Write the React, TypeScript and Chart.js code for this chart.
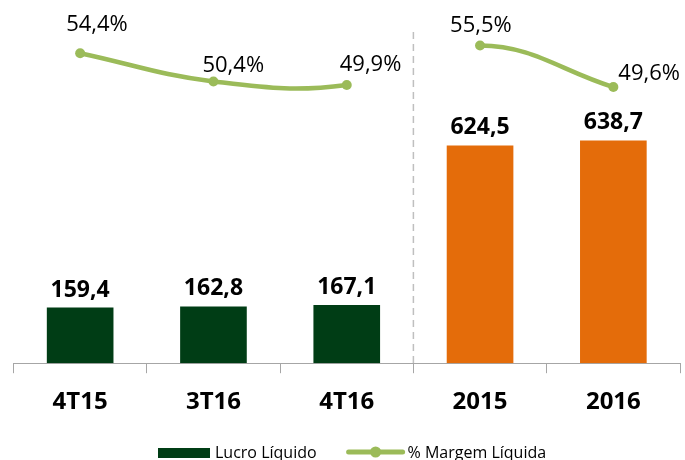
import React, { useEffect, useRef } from "react";
import { Chart, registerables } from "chart.js";

Chart.register(...registerables);

const categories = ["4T15", "3T16", "4T16", "2015", "2016"];
const lucroLiquido = [159.4, 162.8, 167.1, 624.5, 638.7];
const margemLiquida = [54.4, 50.4, 49.9, 55.5, 49.6];

const DARK_GREEN = "#003d15";
const ORANGE = "#e46c0a";
const LIGHT_GREEN = "#9bbb59";
const AXIS_GRAY = "#a6a6a6";
const FONT = "'Open Sans', 'DejaVu Sans', sans-serif";

const barColors = [DARK_GREEN, DARK_GREEN, DARK_GREEN, ORANGE, ORANGE];
// label offsets (left edge dx, baseline dy) relative to each line point
const pctLabelOffsets = [
  [-14, -22],
  [-11, -9],
  [-7, -14],
  [-30, -14],
  [5, -7],
];

const fmt = (v: number) => v.toFixed(1).replace(".", ",");

const labelsPlugin = {
  id: "labelsPlugin",
  afterDatasetsDraw(chart: any) {
    const ctx = chart.ctx;
    ctx.save();
    const barMeta = chart.getDatasetMeta(1);
    ctx.font = `bold 23px ${FONT}`;
    ctx.fillStyle = "#000";
    ctx.textAlign = "center";
    ctx.textBaseline = "alphabetic";
    barMeta.data.forEach((el: any, i: number) => {
      ctx.fillText(fmt(lucroLiquido[i]), el.x, el.y - 11);
    });
    const lineMeta = chart.getDatasetMeta(0);
    ctx.font = `22px ${FONT}`;
    ctx.textAlign = "left";
    lineMeta.data.forEach((el: any, i: number) => {
      const [dx, dy] = pctLabelOffsets[i];
      ctx.fillText(fmt(margemLiquida[i]) + "%", el.x + dx, el.y + dy);
    });
    ctx.restore();
  },
};

const separatorPlugin = {
  id: "separatorPlugin",
  beforeDatasetsDraw(chart: any) {
    const ctx = chart.ctx;
    const xs = chart.scales.x;
    const x = (xs.getPixelForValue(2) + xs.getPixelForValue(3)) / 2;
    ctx.save();
    ctx.strokeStyle = "#bfbfbf";
    ctx.lineWidth = 1.5;
    ctx.setLineDash([7, 5]);
    ctx.beginPath();
    ctx.moveTo(x, 32);
    ctx.lineTo(x, chart.chartArea.bottom);
    ctx.stroke();
    ctx.restore();
  },
};

const legendPlugin = {
  id: "customLegend",
  afterDraw(chart: any) {
    const ctx = chart.ctx;
    ctx.save();
    const y = 453;
    let x = 158;
    ctx.fillStyle = DARK_GREEN;
    ctx.fillRect(x, y - 5, 52, 10);
    x += 57;
    ctx.font = `16px ${FONT}`;
    ctx.fillStyle = "#000";
    ctx.textAlign = "left";
    ctx.textBaseline = "alphabetic";
    const t1 = "Lucro Líquido";
    ctx.fillText(t1, x, 458);
    x += ctx.measureText(t1).width + 32;
    ctx.strokeStyle = LIGHT_GREEN;
    ctx.lineWidth = 5;
    ctx.lineCap = "round";
    ctx.beginPath();
    ctx.moveTo(x, y - 1);
    ctx.lineTo(x + 54, y - 1);
    ctx.stroke();
    ctx.fillStyle = LIGHT_GREEN;
    ctx.beginPath();
    ctx.arc(x + 27, y - 1, 5.5, 0, Math.PI * 2);
    ctx.fill();
    x += 59;
    ctx.fillStyle = "#000";
    ctx.fillText("% Margem Líquida", x, 458);
    ctx.restore();
  },
};

export default function App() {
  const ref = useRef<HTMLCanvasElement>(null);

  useEffect(() => {
    if (!ref.current) return;
    const chart = new Chart(ref.current, {
      type: "bar",
      data: {
        labels: categories,
        datasets: [
          {
            type: "line",
            label: "% Margem Líquida",
            data: margemLiquida,
            yAxisID: "y1",
            borderColor: LIGHT_GREEN,
            backgroundColor: LIGHT_GREEN,
            borderWidth: 4.5,
            pointRadius: 5,
            pointBackgroundColor: LIGHT_GREEN,
            pointBorderColor: LIGHT_GREEN,
            pointBorderWidth: 0,
            tension: 0.4,
            segment: {
              borderColor: (c: any) =>
                c.p0DataIndex === 2 ? "rgba(0,0,0,0)" : LIGHT_GREEN,
            },
            order: 0,
          } as any,
          {
            type: "bar",
            label: "Lucro Líquido",
            data: lucroLiquido,
            yAxisID: "y",
            backgroundColor: barColors,
            barPercentage: 0.5,
            categoryPercentage: 1.0,
            order: 1,
          },
        ],
      },
      options: {
        responsive: false,
        animation: false,
        devicePixelRatio: 1,
        layout: { padding: { left: 13.5, right: 4, top: 11, bottom: 28 } },
        plugins: {
          legend: { display: false },
          tooltip: { enabled: false },
        },
        scales: {
          x: {
            grid: {
              display: true,
              drawOnChartArea: false,
              drawTicks: true,
              tickLength: 10,
              color: AXIS_GRAY,
              offset: true,
            },
            border: { display: true, color: AXIS_GRAY, width: 1 },
            ticks: {
              color: "#000",
              padding: 15,
              font: { family: FONT, size: 24, weight: "bold" },
            },
          },
          y: { display: false, min: 0, max: 1010 },
          y1: { display: false, min: 10.4, max: 60.4, position: "right" },
        },
      },
      plugins: [separatorPlugin, labelsPlugin, legendPlugin],
    });
    return () => chart.destroy();
  }, []);

  return (
    <div
      style={{
        position: "fixed",
        left: 0,
        top: 0,
        width: 685,
        height: 460,
        background: "#fff",
      }}
    >
      <canvas ref={ref} width={685} height={460} style={{ display: "block" }} />
    </div>
  );
}
